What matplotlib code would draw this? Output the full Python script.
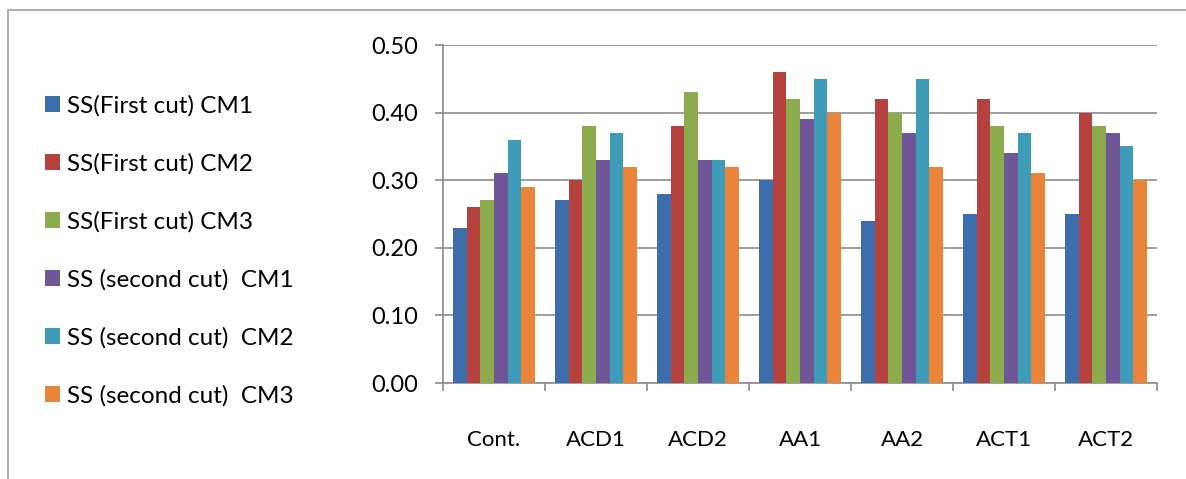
import numpy as np
import matplotlib
matplotlib.use('Agg')
import matplotlib.pyplot as plt
from matplotlib.patches import Rectangle

plt.rcParams['font.family'] = ['Lato', 'DejaVu Sans']

# categories and series values
categories = ['Cont.', 'ACD1', 'ACD2', 'AA1', 'AA2', 'ACT1', 'ACT2']
series_names = ['SS(First cut) CM1', 'SS(First cut) CM2', 'SS(First cut) CM3',
                'SS (second cut)  CM1', 'SS (second cut)  CM2', 'SS (second cut)  CM3']
ss1_cm1 = [0.23, 0.27, 0.28, 0.30, 0.24, 0.25, 0.25]
ss1_cm2 = [0.26, 0.30, 0.38, 0.46, 0.42, 0.42, 0.40]
ss1_cm3 = [0.27, 0.38, 0.43, 0.42, 0.40, 0.38, 0.38]
ss2_cm1 = [0.31, 0.33, 0.33, 0.39, 0.37, 0.34, 0.37]
ss2_cm2 = [0.36, 0.37, 0.33, 0.45, 0.45, 0.37, 0.35]
ss2_cm3 = [0.29, 0.32, 0.32, 0.40, 0.32, 0.31, 0.30]
all_series = [ss1_cm1, ss1_cm2, ss1_cm3, ss2_cm1, ss2_cm2, ss2_cm3]
colors = ['#3d6eab', '#b5423f', '#8cab4c', '#6f5696', '#3f9cb8', '#e9843a']

fig = plt.figure(figsize=(11.86, 4.79), dpi=100)
ax = fig.add_axes([0.3735, 0.2004, 0.6021, 0.7056])

# outer chart frame
fig.patches.append(Rectangle((0.0068, -0.01), 1.0, 0.989, transform=fig.transFigure,
                             fill=False, edgecolor='#a0a0a0', linewidth=1.2))

x = np.arange(len(categories))
width = 0.133
for i, (vals, name, c) in enumerate(zip(all_series, series_names, colors)):
    ax.bar(x + (i - 2.5) * width, vals, width, color=c, label=name, zorder=3)

ax.set_xlim(-0.5, len(categories) - 0.5)
ax.set_ylim(0, 0.5)
ax.set_yticks(np.arange(0, 0.51, 0.1))
ax.set_yticklabels([f'{v:.2f}' for v in np.arange(0, 0.51, 0.1)])
ax.yaxis.grid(True, color='#8c8c8c', linewidth=1.2, zorder=0)
ax.set_axisbelow(True)

ax.set_xticks(np.arange(-0.5, len(categories), 1.0))
ax.set_xticklabels([])
ax.set_xticks(x, minor=True)
ax.set_xticklabels(categories, minor=True)
ax.tick_params(axis='x', which='minor', length=0, pad=34, labelsize=16, colors='#000000')
ax.tick_params(axis='x', which='major', length=6, color='#8c8c8c', width=1.2)
ax.tick_params(axis='y', length=6, color='#8c8c8c', width=1.2, labelsize=17, pad=12)

for s in ['top', 'right']:
    ax.spines[s].set_visible(False)
for s in ['left', 'bottom']:
    ax.spines[s].set_color('#8c8c8c')
    ax.spines[s].set_linewidth(1.2)

handles, labels = ax.get_legend_handles_labels()
fig.legend(handles, labels, loc='upper left', bbox_to_anchor=(0.03, 0.822),
           frameon=False, fontsize=17.5, handlelength=0.6, handleheight=0.6,
           handletextpad=0.3, labelspacing=1.5, borderaxespad=0)

fig.savefig('out.png', dpi=100)
